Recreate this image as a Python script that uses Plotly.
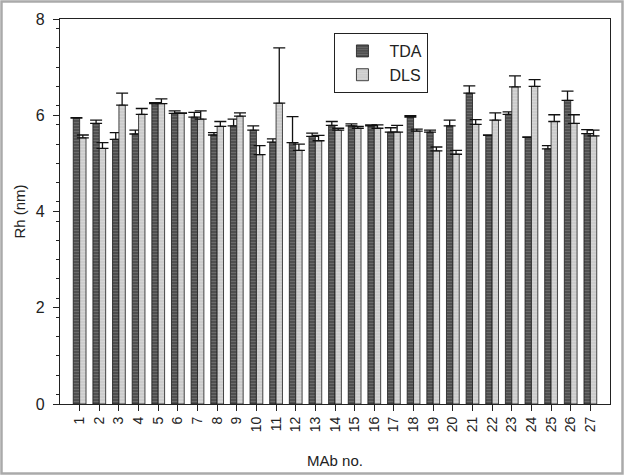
import plotly.graph_objects as go

mab = list(range(1, 28))
mab_labels = [str(m) for m in mab]
tda = [5.94, 5.83, 5.50, 5.61, 6.24, 6.04, 5.96, 5.59, 5.78, 5.69, 5.44, 5.43, 5.56, 5.79,
       5.78, 5.78, 5.65, 5.96, 5.65, 5.78, 6.46, 5.58, 6.02, 5.54, 5.30, 6.31, 5.62]
tda_err = [0.01, 0.07, 0.14, 0.08, 0.02, 0.05, 0.10, 0.05, 0.14, 0.09, 0.07, 0.54, 0.07, 0.08,
           0.04, 0.02, 0.09, 0.03, 0.04, 0.12, 0.15, 0.01, 0.05, 0.01, 0.07, 0.19, 0.08]
dls = [5.53, 5.31, 6.21, 6.02, 6.24, 6.04, 5.92, 5.77, 5.98, 5.18, 6.25, 5.27, 5.47, 5.69,
       5.73, 5.73, 5.65, 5.67, 5.26, 5.19, 5.81, 5.90, 6.59, 6.60, 5.87, 5.83, 5.57]
dls_err = [0.06, 0.12, 0.25, 0.12, 0.10, 0.01, 0.17, 0.10, 0.07, 0.19, 1.15, 0.13, 0.11, 0.04,
           0.04, 0.07, 0.14, 0.04, 0.08, 0.08, 0.10, 0.15, 0.23, 0.14, 0.14, 0.18, 0.12]

FONT = "Liberation Sans, Arial, sans-serif"
TXT = "#222222"

fig = go.Figure()
fig.add_trace(go.Bar(
    x=mab, y=tda, name="TDA",
    marker=dict(color="#505050", line=dict(color="#1a1a1a", width=0.8),
                pattern=dict(shape="-", fgcolor="#8c8c8c", size=3, solidity=0.3)),
    error_y=dict(type="data", array=tda_err, arrayminus=[0] * len(tda_err), symmetric=False,
                 color="#111", thickness=1.3, width=6),
))
fig.add_trace(go.Bar(
    x=mab, y=dls, name="DLS",
    marker=dict(color="#cccccc", line=dict(color="#1a1a1a", width=0.8),
                pattern=dict(shape="-", fgcolor="#e4e4e4", size=3, solidity=0.25)),
    error_y=dict(type="data", array=dls_err, arrayminus=[0] * len(dls_err), symmetric=False,
                 color="#111", thickness=1.3, width=6),
))

fig.update_layout(
    width=624, height=475,
    margin=dict(l=60, r=14, t=19, b=71, autoexpand=False),
    paper_bgcolor="white", plot_bgcolor="white",
    barmode="group", bargap=0.35, bargroupgap=0,
    font=dict(family=FONT, color=TXT, size=13),
    showlegend=True,
    legend=dict(x=0.499, y=0.9636, xanchor="left", yanchor="top",
                bordercolor=TXT, borderwidth=1, bgcolor="white",
                font=dict(size=16, color=TXT), itemwidth=44,
                tracegroupgap=2),
    xaxis=dict(range=[0, 28], tickmode="array", tickvals=mab, ticktext=mab_labels,
               tickangle=-90, ticks="outside", ticklen=6, tickcolor=TXT,
               showline=True, linecolor=TXT, linewidth=1.2, mirror=True,
               showgrid=False, zeroline=False, tickfont=dict(size=14, color=TXT), automargin=False,
               title=dict(text="MAb no.", font=dict(size=15, color=TXT), standoff=24)),
    yaxis=dict(range=[0, 8], tick0=0, dtick=2, ticks="outside", ticklen=6, tickcolor=TXT,
               showline=True, linecolor=TXT, linewidth=1.2, mirror=True,
               showgrid=False, zeroline=False, tickfont=dict(size=16, color=TXT), automargin=False,
               ticklabelstandoff=5,
               minor=dict(tick0=0.2, dtick=0.4, ticks="outside", ticklen=3, tickcolor=TXT),
               title=dict(text="Rh (nm)", font=dict(size=15, color=TXT), standoff=6)),
)

# outer gray frame around the whole picture
pw, ph = 624 - 60 - 14, 475 - 19 - 71
fig.add_shape(type="rect", xref="paper", yref="paper",
              x0=-58.5 / pw, x1=1 + 12.5 / pw, y0=-69.5 / ph, y1=1 + 17.5 / ph,
              line=dict(color="#aaaaaa", width=2.5), layer="below")

fig.write_html("out.html", config={"displayModeBar": False},
               post_script="document.body.style.margin='0';document.body.style.overflow='hidden';")
